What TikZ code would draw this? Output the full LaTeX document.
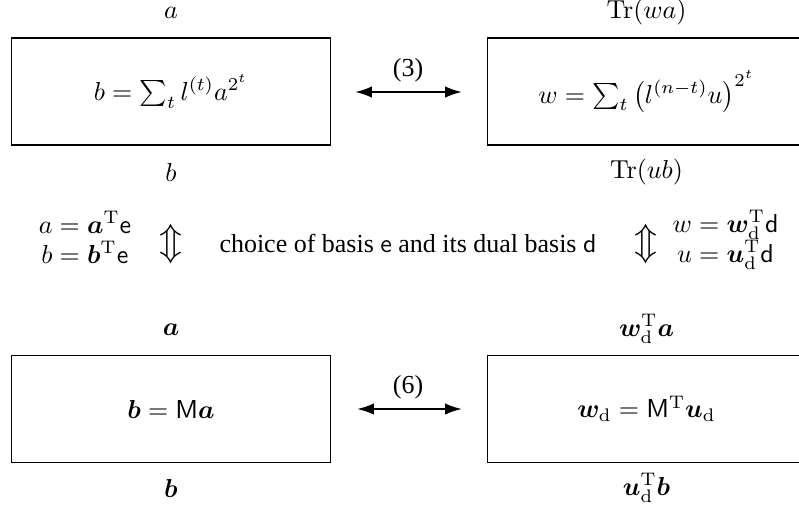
\documentclass[tikz,border=0pt]{standalone}
\usepackage{amsmath,bm,graphicx}
\usepackage[no-math]{fontspec}
\newfontfamily\timesfont{Liberation Serif}
\usetikzlibrary{arrows.meta}
\tikzset{
  box/.style={draw, line width=0.4pt, minimum width=122.8pt, minimum height=41.2pt, inner sep=0pt},
  lbl/.style={inner sep=0pt},
  link/.style={line width=0.8pt, {Latex[length=6.5pt,width=4.4pt]}-{Latex[length=6.5pt,width=4.4pt]}},
  num/.style={inner sep=0pt, font=\timesfont}
}
\begin{document}
\begin{tikzpicture}[x=0.385pt,y=-0.385pt]
\useasboundingbox (0,0) rectangle (799,511);
\clip (0,0) rectangle (799,511);
% top row
\node[box] (tl) at (171,91.5) {$b=\sum_t l^{(t)}a^{2^t}$};
\node[box] (tr) at (646.5,91.5) {$w=\sum_t \left(l^{(n-t)}u\right)^{2^t}$};
\node[lbl] (tla) at (171,13) {$a$};
\node[lbl] (tlb) at (171,172) {$b$};
\node[lbl] (tra) at (646.5,12) {$\mathrm{Tr}(wa)$};
\node[lbl] (trb) at (646.5,172) {$\mathrm{Tr}(ub)$};
\coordinate (a3l) at (355,92);
\coordinate (a3r) at (462,92);
\draw[link] (a3l) -- (a3r);
\node[num] (n3) at (408,70) {(3)};
% middle row
\node[lbl] (ml) at (85,242) {$\begin{aligned} a &= \bm{a}^{\mathrm{T}}\mathsf{e}\\[-5pt] b &= \bm{b}^{\mathrm{T}}\mathsf{e}\end{aligned}$};
\node[lbl] (mal) at (171,244) {\scalebox{1.45}{$\Updownarrow$}};
\node[num] (mt) at (408,243) {choice of basis $\mathsf{e}$ and its dual basis $\mathsf{d}$};
\node[lbl] (mar) at (646,244) {\scalebox{1.45}{$\Updownarrow$}};
\node[lbl, anchor=east] (mr) at (779,241) {$\begin{aligned} w &= \bm{w}_{\mathrm{d}}^{\mathrm{T}}\mathsf{d}\\[-5pt] u &= \bm{u}_{\mathrm{d}}^{\mathrm{T}}\mathsf{d}\end{aligned}$};
% bottom row
\node[box] (bl) at (171,409) {$\bm{b}=\mathsf{M}\bm{a}$};
\node[box] (br) at (646.5,409) {$\bm{w}_{\mathrm{d}}=\mathsf{M}^{\mathrm{T}}\bm{u}_{\mathrm{d}}$};
\node[lbl] (bla) at (171,330) {$\bm{a}$};
\node[lbl] (blb) at (171,488) {$\bm{b}$};
\node[lbl] (bra) at (646.5,329) {$\bm{w}_{\mathrm{d}}^{\mathrm{T}}\bm{a}$};
\node[lbl] (brb) at (646.5,488) {$\bm{u}_{\mathrm{d}}^{\mathrm{T}}\bm{b}$};
\coordinate (a6l) at (357,409);
\coordinate (a6r) at (462,409);
\draw[link] (a6l) -- (a6r);
\node[num] (n6) at (408,387) {(6)};
\end{tikzpicture}
\end{document}
